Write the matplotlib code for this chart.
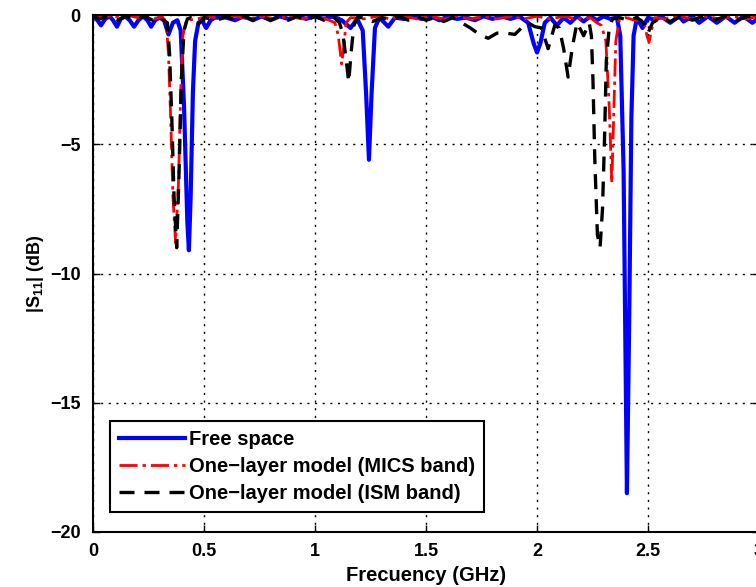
import matplotlib
matplotlib.use('Agg')
import matplotlib.pyplot as plt

plt.rcParams['font.family'] = ['Liberation Sans', 'DejaVu Sans']
plt.rcParams['font.weight'] = 'bold'
plt.rcParams['mathtext.fontset'] = 'custom'
plt.rcParams['mathtext.rm'] = 'Liberation Sans:bold'
plt.rcParams['mathtext.bf'] = 'Liberation Sans:bold'
plt.rcParams['axes.unicode_minus'] = True

# Free space
f_free = [0.0, 0.02, 0.036, 0.055, 0.075, 0.09, 0.108, 0.125, 0.145, 0.165, 0.185, 0.205,
          0.225, 0.245, 0.262, 0.28, 0.30, 0.32, 0.34, 0.36, 0.38, 0.395, 0.41, 0.425, 0.432,
          0.44, 0.45, 0.46, 0.475, 0.49, 0.51, 0.53, 0.55, 0.6, 0.64, 0.68, 0.72, 0.76, 0.80,
          0.84, 0.88, 0.92, 0.96, 1.00, 1.04, 1.08, 1.12, 1.16, 1.19, 1.215, 1.23, 1.243,
          1.255, 1.27, 1.29, 1.33, 1.36, 1.40, 1.44, 1.48, 1.52, 1.56, 1.60, 1.64, 1.68, 1.72,
          1.76, 1.80, 1.84, 1.88, 1.92, 1.96, 1.985, 2.00, 2.015, 2.035, 2.06, 2.09, 2.12,
          2.15, 2.18, 2.21, 2.24, 2.27, 2.30, 2.33, 2.36, 2.375, 2.39, 2.405, 2.415, 2.425,
          2.435, 2.45, 2.475, 2.50, 2.53, 2.56, 2.60, 2.64, 2.66, 2.70, 2.73, 2.77, 2.81,
          2.85, 2.89, 2.93, 2.97, 3.0]
s_free = [-0.05, -0.2, -0.4, -0.15, -0.05, -0.2, -0.45, -0.15, -0.05, -0.2, -0.45, -0.2,
          -0.05, -0.2, -0.45, -0.2, -0.1, -0.2, -0.75, -0.3, -0.2, -0.6, -3.5, -8.0, -9.1,
          -7.0, -3.0, -1.0, -0.3, -0.2, -0.5, -0.2, -0.1, -0.1, -0.2, -0.05, -0.2, -0.05, -0.2,
          -0.05, -0.15, -0.05, -0.15, -0.05, -0.15, -0.05, -0.2, -0.5, -0.15, -0.6, -3.0, -5.6,
          -3.0, -0.5, -0.1, -0.45, -0.1, -0.15, -0.05, -0.15, -0.05, -0.2, -0.05, -0.15, -0.1, -0.2,
          -0.05, -0.15, -0.05, -0.15, -0.05, -0.3, -1.1, -1.45, -1.1, -0.3, -0.1, -0.4, -0.1,
          -0.3, -0.05, -0.25, -0.05, -0.2, -0.05, -0.15, -0.1, -0.8, -6.0, -18.5, -12.0, -4.0,
          -0.8, -0.1, -0.5, -0.1, -0.2, -0.05, -0.3, -0.05, -0.25, -0.05, -0.3, -0.05, -0.3,
          -0.05, -0.3, -0.05, -0.3, -0.1]

# One-layer model, MICS band
f_mics = [0.0, 0.04, 0.08, 0.12, 0.16, 0.20, 0.24, 0.28, 0.31, 0.33, 0.34, 0.35, 0.36,
          0.372, 0.385, 0.395, 0.405, 0.42, 0.47, 0.52, 0.58, 0.64, 0.70, 0.76, 0.82, 0.88,
          0.94, 1.00, 1.05, 1.09, 1.105, 1.12, 1.13, 1.14, 1.16, 1.22, 1.28, 1.34, 1.40, 1.46,
          1.52, 1.58, 1.64, 1.70, 1.76, 1.82, 1.88, 1.94, 2.00, 2.06, 2.12, 2.18, 2.24, 2.27,
          2.29, 2.31, 2.325, 2.337, 2.345, 2.355, 2.37, 2.40, 2.44, 2.48, 2.495, 2.505, 2.515,
          2.53, 2.58, 2.64, 2.70, 2.76, 2.82, 2.88, 2.94, 3.0]
s_mics = [-0.02, -0.1, -0.02, -0.1, -0.02, -0.1, -0.02, -0.15, -0.05, -0.3, -1.5, -4.0, -7.0,
          -8.8, -6.5, -3.0, -0.8, -0.2, -0.15, -0.05, -0.15, -0.05, -0.15, -0.05, -0.15, -0.05,
          -0.15, -0.05, -0.15, -0.3, -0.8, -1.9, -1.2, -0.3, -0.1, -0.15, -0.05, -0.15, -0.05, -0.15,
          -0.05, -0.15, -0.05, -0.15, -0.05, -0.15, -0.05, -0.15, -0.05, -0.15, -0.05, -0.15, -0.1, -0.3,
          -0.4, -1.0, -3.5, -6.5, -4.0, -1.0, -0.2, -0.1, -0.2, -0.2, -0.8, -1.05, -0.6,
          -0.1, -0.15, -0.05, -0.15, -0.05, -0.15, -0.05, -0.15, -0.05]

# One-layer model, ISM band
f_ism = [0.0, 0.03, 0.07, 0.11, 0.15, 0.19, 0.23, 0.27, 0.30, 0.335, 0.345, 0.355, 0.365,
         0.377, 0.388, 0.398, 0.41, 0.425, 0.44, 0.47, 0.50, 0.56, 0.60, 0.64, 0.68, 0.72,
         0.76, 0.80, 0.84, 0.88, 0.92, 0.96, 1.00, 1.04, 1.08, 1.11, 1.125, 1.14, 1.152,
         1.162, 1.175, 1.19, 1.22, 1.26, 1.30, 1.34, 1.38, 1.42, 1.46, 1.50, 1.54, 1.58,
         1.62, 1.66, 1.70, 1.74, 1.78, 1.82, 1.86, 1.90, 1.93, 1.96, 1.99, 2.02, 2.05, 2.08,
         2.10, 2.12, 2.14, 2.16, 2.18, 2.21, 2.235, 2.245, 2.252, 2.26, 2.272, 2.284, 2.295,
         2.305, 2.312, 2.325, 2.34, 2.37, 2.41, 2.45, 2.48, 2.50, 2.52, 2.56, 2.60, 2.65,
         2.70, 2.75, 2.80, 2.85, 2.90, 2.95, 3.0]
s_ism = [-0.05, -0.15, -0.05, -0.2, -0.05, -0.2, -0.05, -0.2, -0.1, -0.3, -1.5, -4.0, -7.0,
         -9.0, -6.0, -2.5, -0.6, -0.15, -0.1, -0.4, -0.1, -0.2, -0.05, -0.2, -0.05, -0.2,
         -0.05, -0.2, -0.05, -0.2, -0.05, -0.2, -0.05, -0.2, -0.05, -0.3, -0.7, -1.7, -2.6,
         -1.5, -0.4, -0.1, -0.1, -0.25, -0.1, -0.2, -0.05, -0.2, -0.05, -0.2, -0.1, -0.25,
         -0.1, -0.3, -0.5, -0.75, -0.9, -0.7, -0.7, -0.75, -0.5, -0.3, -0.45, -0.5, -1.3, -0.4,
         -0.5, -1.3, -2.4, -1.2, -0.3, -0.8, -0.3, -0.8, -2.5, -5.5, -8.5, -9.0, -7.5,
         -4.5, -1.8, -0.5, -0.15, -0.1, -0.2, -0.1, -0.3, -0.7, -0.3, -0.1, -0.25, -0.05,
         -0.2, -0.05, -0.2, -0.05, -0.2, -0.05, -0.1]

fig = plt.figure(figsize=(7.56, 5.87), dpi=100)
ax = fig.add_axes([0.123, 0.0937, 0.881, 0.8807])

ax.plot(f_free, s_free, color='#0000ff', lw=3.0, label='Free space')
ax.plot(f_mics, s_mics, color='#ff0000', lw=2.0, dashes=(6.5, 1.8, 1.2, 1.8),
        label='One\u2212layer model (MICS band)')
ax.plot(f_ism, s_ism, color='black', lw=2.4, dashes=(4.5, 3),
        label='One\u2212layer model (ISM band)')

ax.set_xlim(0, 3)
ax.set_ylim(-20, 0)
ax.set_xticks([0, 0.5, 1, 1.5, 2, 2.5, 3])
ax.set_xticklabels(['0', '0.5', '1', '1.5', '2', '2.5', '3'])
ax.set_yticks([-20, -15, -10, -5, 0])
ax.grid(True, color='black', lw=1.0, linestyle=(0, (1.5, 4)))
ax.tick_params(direction='in', length=5, width=1, labelsize=13, top=True, right=True)
ax.tick_params(axis='x', pad=8)
ax.tick_params(axis='y', pad=9)
for sp in ax.spines.values():
    sp.set_linewidth(1.5)

ax.set_xlabel('Frecuency (GHz)', fontsize=14.5, fontweight='bold', labelpad=4)
ax.set_ylabel(r'|S$_\mathbf{11}$| (dB)', fontsize=13, fontweight='bold', labelpad=3)

leg = ax.legend(loc='lower left', bbox_to_anchor=(0.0255, 0.0387), borderaxespad=0,
                fancybox=False, framealpha=1, edgecolor='black', handlelength=3.3,
                handletextpad=0.15, labelspacing=0.4, borderpad=0.45,
                prop={'size': 14.5, 'weight': 'bold'})
leg.get_frame().set_linewidth(1.5)

fig.savefig('out.png', dpi=100)
